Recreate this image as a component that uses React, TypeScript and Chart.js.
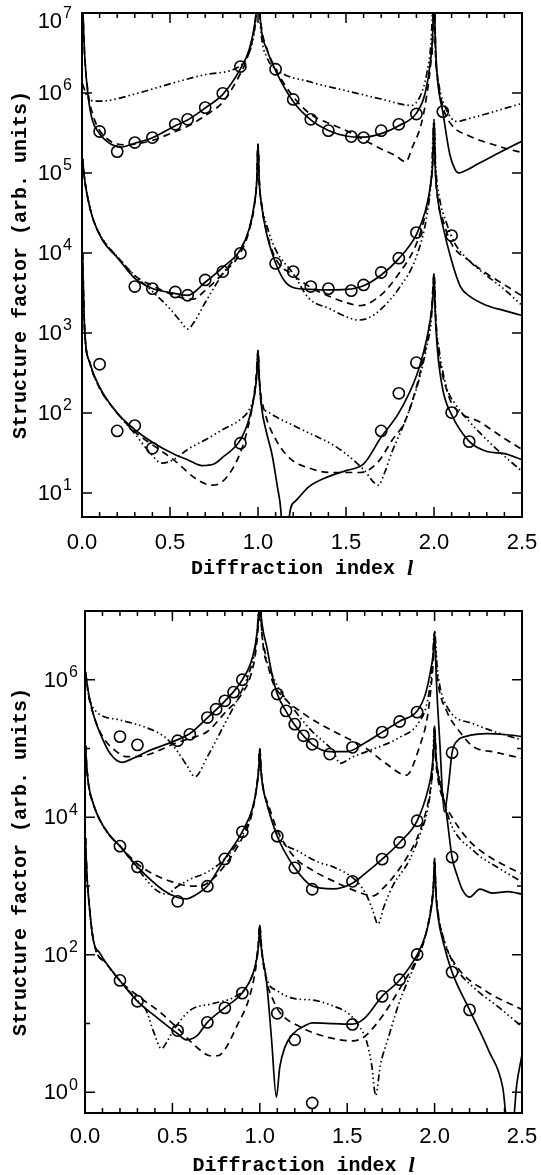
import React, { useEffect, useRef } from "react";
import { Chart, registerables } from "chart.js";
Chart.register(...registerables);

type P = [number, number][];

// ---------------- TOP PANEL ----------------
const topA_solid: P = [[0.003,1.5e7],[0.015,3e6],[0.035,9e5],[0.06,4.5e5],[0.1,3.1e5],[0.15,2.4e5],[0.22,2.1e5],[0.3,2.35e5],[0.4,2.75e5],[0.53,3.9e5],[0.6,4.6e5],[0.7,6.5e5],[0.8,9.6e5],[0.9,2.0e6],[0.95,3.5e6],[0.98,7e6],[0.993,1.3e7],[1.0,3e7],[1.007,1.3e7],[1.02,6e6],[1.05,3.5e6],[1.1,1.9e6],[1.2,7.8e5],[1.3,4.6e5],[1.4,3.4e5],[1.5,2.9e5],[1.6,2.8e5],[1.7,3.1e5],[1.8,3.9e5],[1.9,5.6e5],[1.95,1.0e6],[1.98,2.5e6],[1.993,6e6],[2.0,3e7],[2.007,5e6],[2.02,1.5e6],[2.05,5.8e5],[2.09,1.7e5],[2.12,1.1e5],[2.14,1.0e5],[2.17,1.05e5],[2.25,1.3e5],[2.35,1.7e5],[2.45,2.2e5],[2.5,2.5e5]];
const topA_dash: P = [[0.003,1.5e7],[0.015,3e6],[0.035,1e6],[0.06,5.5e5],[0.1,3.4e5],[0.15,2.6e5],[0.2,2.3e5],[0.25,2.25e5],[0.3,2.3e5],[0.4,2.55e5],[0.5,3.1e5],[0.6,3.85e5],[0.7,5.2e5],[0.8,7.7e5],[0.88,1.45e6],[0.94,2.8e6],[0.98,6.5e6],[0.993,1.3e7],[1.0,3e7],[1.007,1.3e7],[1.02,6.5e6],[1.05,3.6e6],[1.1,2.0e6],[1.2,9e5],[1.3,5.4e5],[1.4,4.2e5],[1.5,3.4e5],[1.6,2.6e5],[1.7,2.0e5],[1.78,1.65e5],[1.84,1.38e5],[1.877,2.1e5],[1.925,3.9e5],[1.954,8e5],[1.98,2.2e6],[1.993,5e6],[2.0,3e7],[2.007,4e6],[2.02,1.6e6],[2.05,6.8e5],[2.1,4.0e5],[2.2,2.9e5],[2.3,2.4e5],[2.4,2.05e5],[2.5,1.8e5]];
const topA_dot: P = [[0.003,1.3e6],[0.03,9e5],[0.08,7.9e5],[0.14,8e5],[0.3,9.7e5],[0.5,1.3e6],[0.7,1.7e6],[0.9,2.2e6],[0.95,3.2e6],[0.98,6e6],[0.993,1.2e7],[1.0,3e7],[1.007,1.2e7],[1.02,5e6],[1.05,2.8e6],[1.1,2.0e6],[1.3,1.37e6],[1.5,1.07e6],[1.7,8.4e5],[1.87,7e5],[1.92,9e5],[1.96,1.8e6],[1.985,5e6],[2.0,3e7],[2.01,3e6],[2.03,1.2e6],[2.07,6.2e5],[2.13,4.4e5],[2.2,4.8e5],[2.3,5.5e5],[2.4,6.4e5],[2.5,7.4e5]];
const topA_obs: P = [[0.1,3.3e5],[0.2,1.85e5],[0.3,2.4e5],[0.4,2.77e5],[0.53,4.06e5],[0.6,4.69e5],[0.7,6.56e5],[0.8,9.9e5],[0.9,2.14e6],[1.1,1.98e6],[1.2,8.3e5],[1.3,4.69e5],[1.4,3.38e5],[1.53,2.85e5],[1.6,2.77e5],[1.7,3.38e5],[1.8,4.06e5],[1.9,5.46e5],[2.05,5.85e5]];

const topB_solid: P = [[0.003,1.5e5],[0.016,8e4],[0.035,4.6e4],[0.064,2.6e4],[0.12,1.4e4],[0.2,8.8e3],[0.3,4.8e3],[0.4,3.6e3],[0.5,3.2e3],[0.6,2.95e3],[0.7,4.3e3],[0.8,6.6e3],[0.9,1.1e4],[0.95,2.0e4],[0.98,4.2e4],[0.993,8e4],[1.0,2.3e5],[1.007,8e4],[1.02,4e4],[1.05,1.7e4],[1.1,7.5e3],[1.15,4.5e3],[1.2,3.7e3],[1.3,3.5e3],[1.4,3.45e3],[1.5,3.5e3],[1.6,3.9e3],[1.7,5.3e3],[1.8,8.5e3],[1.9,1.7e4],[1.95,3.3e4],[1.98,7e4],[1.993,1.4e5],[2.0,4.6e5],[2.007,1.2e5],[2.02,5e4],[2.05,2.2e4],[2.1,8e3],[2.15,3.8e3],[2.2,2.9e3],[2.3,2.2e3],[2.4,1.9e3],[2.5,1.65e3]];
const topB_dash: P = [[0.003,1.5e5],[0.016,8e4],[0.035,4.6e4],[0.064,2.6e4],[0.12,1.45e4],[0.2,9e3],[0.3,5.2e3],[0.4,3.9e3],[0.5,3.1e3],[0.58,2.7e3],[0.63,2.65e3],[0.7,3.4e3],[0.8,5.5e3],[0.9,1.0e4],[0.95,1.9e4],[0.98,4e4],[0.993,8e4],[1.0,2.3e5],[1.007,8e4],[1.02,4e4],[1.05,1.8e4],[1.1,8.5e3],[1.2,5.3e3],[1.3,3.7e3],[1.4,2.9e3],[1.5,2.4e3],[1.58,2.2e3],[1.7,3.0e3],[1.8,5.5e3],[1.9,1.3e4],[1.95,3e4],[1.98,7e4],[1.993,1.4e5],[2.0,4.6e5],[2.007,1.2e5],[2.02,5e4],[2.05,2.6e4],[2.1,1.3e4],[2.2,8e3],[2.3,5.5e3],[2.4,4e3],[2.5,2.9e3]];
const topB_dot: P = [[0.003,1.5e5],[0.016,8e4],[0.035,4.6e4],[0.064,2.6e4],[0.12,1.45e4],[0.2,9e3],[0.3,5.2e3],[0.4,3.3e3],[0.5,2.0e3],[0.56,1.4e3],[0.6,1.12e3],[0.64,1.4e3],[0.7,2.4e3],[0.8,5.5e3],[0.9,1.1e4],[0.95,2e4],[0.98,4.2e4],[0.993,8e4],[1.0,2.3e5],[1.007,8e4],[1.02,4.2e4],[1.05,2.2e4],[1.1,1.1e4],[1.2,5.5e3],[1.29,2.7e3],[1.41,2.0e3],[1.5,1.6e3],[1.57,1.45e3],[1.63,1.55e3],[1.7,2.0e3],[1.8,3.6e3],[1.9,9e3],[1.96,3e4],[1.985,9e4],[2.0,4.6e5],[2.01,1.2e5],[2.03,5e4],[2.07,2.4e4],[2.12,1.3e4],[2.2,8e3],[2.3,5.2e3],[2.4,3.5e3],[2.5,2.2e3]];
const topB_obs: P = [[0.3,3.8e3],[0.4,3.58e3],[0.53,3.25e3],[0.6,2.96e3],[0.7,4.6e3],[0.8,5.85e3],[0.9,9.9e3],[1.1,7.4e3],[1.2,5.85e3],[1.3,3.8e3],[1.4,3.58e3],[1.53,3.38e3],[1.6,3.98e3],[1.7,5.7e3],[1.8,8.6e3],[1.9,1.8e4],[2.1,1.65e4]];

const topC_solid: P = [[0.003,1e4],[0.015,1.1e3],[0.045,420],[0.1,210],[0.2,100],[0.3,62],[0.4,43],[0.53,30],[0.6,26],[0.68,22],[0.75,23],[0.8,28],[0.9,46],[0.95,85],[0.98,170],[0.993,300],[1.0,600],[1.007,280],[1.02,120],[1.05,55],[1.08,30],[1.11,12],[1.13,6],[1.15,1],[1.165,1],[1.18,5.5],[1.21,7.8],[1.29,12],[1.4,16],[1.5,19],[1.6,23],[1.7,50],[1.8,100],[1.9,290],[1.95,700],[1.98,1.5e3],[1.993,2.6e3],[2.0,5.5e3],[2.007,1.8e3],[2.02,600],[2.05,195],[2.1,95],[2.2,44],[2.3,33],[2.4,31],[2.5,26]];
const topC_dash: P = [[0.003,1e4],[0.015,1.1e3],[0.045,420],[0.1,205],[0.2,100],[0.3,58],[0.4,40],[0.53,25],[0.63,16],[0.7,13],[0.746,12.5],[0.82,15.5],[0.9,32],[0.94,62],[0.97,130],[0.99,300],[1.0,600],[1.01,230],[1.04,100],[1.1,47],[1.19,26],[1.29,20.5],[1.41,18],[1.58,18],[1.68,24],[1.76,45],[1.84,83],[1.935,430],[1.975,1.3e3],[1.99,2.5e3],[2.0,5.5e3],[2.01,1.5e3],[2.03,500],[2.07,200],[2.1,133],[2.27,75],[2.4,48],[2.5,35]];
const topC_dot: P = [[0.003,1e4],[0.015,1.1e3],[0.045,420],[0.1,205],[0.2,100],[0.3,55],[0.38,33],[0.454,23.6],[0.52,26],[0.6,35],[0.707,47],[0.8,62],[0.9,83],[0.95,110],[0.98,170],[0.993,300],[1.0,600],[1.007,250],[1.02,125],[1.05,105],[1.1,90],[1.2,70],[1.29,56],[1.4,43],[1.49,32],[1.6,19.6],[1.685,12.5],[1.72,18],[1.76,32],[1.84,83],[1.915,260],[1.96,700],[1.985,1.5e3],[2.0,5.5e3],[2.01,1.5e3],[2.03,600],[2.07,214],[2.12,130],[2.19,83],[2.34,38],[2.5,18.6]];
const topC_obs: P = [[0.1,406],[0.2,59.6],[0.3,69.5],[0.4,36.2],[0.9,41.8],[1.7,59.6],[1.8,176],[1.9,425],[2.1,101],[2.2,43.8]];

// ---------------- BOTTOM PANEL ----------------
const botA_solid: P = [[0.003,1.3e6],[0.02,6.5e5],[0.05,3e5],[0.086,1.67e5],[0.143,8.5e4],[0.21,6.3e4],[0.28,7.3e4],[0.353,9e4],[0.5,1.25e5],[0.6,1.65e5],[0.7,2.8e5],[0.8,4.9e5],[0.9,1.0e6],[0.96,2.2e6],[0.985,5e6],[0.995,1.1e7],[1.0,3e7],[1.005,1.1e7],[1.015,6e6],[1.04,3e6],[1.07,1.2e6],[1.1,6.2e5],[1.15,3.5e5],[1.2,2.2e5],[1.3,1.15e5],[1.4,9.0e4],[1.5,9.0e4],[1.6,1.2e5],[1.7,1.73e5],[1.8,2.5e5],[1.9,3.5e5],[1.95,6.5e5],[1.98,1.5e6],[1.993,2.5e6],[2.0,5e6],[2.01,1e6],[2.03,1.2e5],[2.055,1.2e4],[2.08,3e4],[2.1,8.7e4],[2.13,1.3e5],[2.18,1.5e5],[2.3,1.65e5],[2.4,1.6e5],[2.5,1.5e5]];
const botA_dash: P = [[0.003,1.3e6],[0.02,6e5],[0.05,3e5],[0.1,1.5e5],[0.17,9.5e4],[0.24,7.6e4],[0.35,8e4],[0.52,1.2e5],[0.6,1.4e5],[0.7,1.77e5],[0.8,3.3e5],[0.9,6.4e5],[0.95,1.2e6],[0.98,3e6],[0.993,8e6],[1.0,3e7],[1.007,8e6],[1.02,3e6],[1.05,1.5e6],[1.076,9e5],[1.15,5.1e5],[1.23,3.5e5],[1.34,2.3e5],[1.48,1.5e5],[1.61,1e5],[1.72,6.1e4],[1.838,4.1e4],[1.914,1.07e5],[1.96,3e5],[1.98,8e5],[1.993,2e6],[2.0,5e6],[2.007,2e6],[2.02,9e5],[2.067,3.6e5],[2.15,1.67e5],[2.22,1.07e5],[2.35,8.8e4],[2.5,7.2e4]];
const botA_dot: P = [[0.003,1.2e6],[0.02,6e5],[0.057,3.6e5],[0.2,2.6e5],[0.354,2e5],[0.467,1.4e5],[0.53,9e4],[0.58,5.8e4],[0.629,3.9e4],[0.7,7.6e4],[0.8,2.3e5],[0.88,5.7e5],[0.94,1.3e6],[0.975,3e6],[0.99,8e6],[1.0,3e7],[1.01,6e6],[1.03,2.5e6],[1.076,1.1e6],[1.21,3.3e5],[1.3,1.77e5],[1.42,9e4],[1.46,6.1e4],[1.53,7.5e4],[1.61,9e4],[1.8,1.45e5],[1.91,2.4e5],[1.96,5e5],[1.985,1.5e6],[2.0,5e6],[2.015,1.5e6],[2.07,4.1e5],[2.22,2.3e5],[2.37,1.67e5],[2.5,1.33e5]];
const botA_obs: P = [[0.2,1.49e5],[0.3,1.13e5],[0.53,1.3e5],[0.6,1.61e5],[0.7,2.82e5],[0.75,3.73e5],[0.8,4.94e5],[0.85,6.6e5],[0.9,1e6],[1.1,6.2e5],[1.15,3.53e5],[1.2,2.26e5],[1.25,1.53e5],[1.3,1.15e5],[1.4,8.3e4],[1.53,1.04e5],[1.7,1.73e5],[1.8,2.47e5],[1.9,3.38e5],[2.1,8.7e4]];

const botB_solid: P = [[0.003,1.1e5],[0.01,5.5e4],[0.02,3e4],[0.05,1.5e4],[0.086,9e3],[0.14,5.5e3],[0.2,3.8e3],[0.3,1.9e3],[0.448,870],[0.53,680],[0.58,650],[0.64,760],[0.7,1.0e3],[0.8,2.5e3],[0.9,6.2e3],[0.96,1.4e4],[0.985,3e4],[0.995,5.5e4],[1.0,1e5],[1.005,5.5e4],[1.015,3e4],[1.04,1.6e4],[1.1,5.3e3],[1.2,1.84e3],[1.3,1e3],[1.42,910],[1.53,1.1e3],[1.6,1.5e3],[1.7,2.46e3],[1.8,4.3e3],[1.9,8.9e3],[1.96,2.4e4],[1.985,5e4],[1.995,1e5],[2.0,2.1e5],[2.005,1e5],[2.015,5e4],[2.04,2.5e4],[2.067,1.15e4],[2.1,2.6e3],[2.13,1.4e3],[2.16,870],[2.2,690],[2.26,900],[2.33,790],[2.42,830],[2.5,760]];
const botB_dash: P = [[0.003,1.1e5],[0.01,5.5e4],[0.02,3e4],[0.05,1.5e4],[0.086,9e3],[0.14,5.5e3],[0.2,3.8e3],[0.3,2.1e3],[0.4,1.45e3],[0.5,1.15e3],[0.6,1.0e3],[0.66,1.0e3],[0.72,1.2e3],[0.8,2.0e3],[0.9,5e3],[0.95,1e4],[0.98,2.5e4],[0.993,5e4],[1.0,1e5],[1.007,5e4],[1.02,2.6e4],[1.05,1.5e4],[1.1,6.5e3],[1.2,2.6e3],[1.3,1.7e3],[1.4,1.25e3],[1.5,950],[1.6,760],[1.65,720],[1.7,900],[1.8,1.8e3],[1.9,5e3],[1.95,1.2e4],[1.98,3e4],[1.993,7e4],[2.0,2.1e5],[2.007,7e4],[2.02,3.5e4],[2.05,1.8e4],[2.1,1e4],[2.2,4.5e3],[2.3,2.8e3],[2.4,2e3],[2.5,1.5e3]];
const botB_dot: P = [[0.003,1.1e5],[0.01,5.5e4],[0.02,3e4],[0.05,1.5e4],[0.086,9e3],[0.14,5.5e3],[0.2,3.8e3],[0.3,1.8e3],[0.4,900],[0.47,760],[0.52,950],[0.6,1.25e3],[0.7,1.6e3],[0.8,2.5e3],[0.9,5.5e3],[0.95,1.1e4],[0.98,2.6e4],[0.993,5e4],[1.0,1e5],[1.007,5e4],[1.02,2.6e4],[1.05,1.3e4],[1.1,5.5e3],[1.23,3.1e3],[1.34,2.2e3],[1.42,1.9e3],[1.55,1.2e3],[1.61,740],[1.645,450],[1.676,280],[1.71,500],[1.76,1e3],[1.857,2.4e3],[1.92,6e3],[1.96,1.3e4],[1.985,4e4],[2.0,2.1e5],[2.01,7e4],[2.03,3.5e4],[2.086,9e3],[2.22,3.3e3],[2.37,1.8e3],[2.5,1.15e3]];
const botB_obs: P = [[0.2,3.8e3],[0.3,1.9e3],[0.53,600],[0.7,994],[0.8,2.48e3],[0.9,6.15e3],[1.1,5.3e3],[1.2,1.84e3],[1.3,898],[1.53,1.17e3],[1.7,2.46e3],[1.8,4.3e3],[1.9,8.9e3],[2.1,2.63e3]];

const botC_solid: P = [[0.003,5e3],[0.01,1.6e3],[0.02,700],[0.048,162],[0.086,105],[0.124,74],[0.2,42],[0.3,21],[0.41,12.3],[0.53,7.1],[0.58,5.8],[0.64,6.6],[0.7,10.4],[0.8,17],[0.9,28],[0.96,52],[0.985,95],[0.995,160],[1.0,270],[1.005,160],[1.015,95],[1.038,42],[1.067,6],[1.095,0.85],[1.114,2.3],[1.143,4.5],[1.19,7.1],[1.257,9.3],[1.3,10.2],[1.42,10],[1.53,9.8],[1.6,12],[1.7,25],[1.8,43],[1.9,100],[1.95,200],[1.98,450],[1.993,900],[2.0,2.5e3],[2.007,800],[2.02,350],[2.05,150],[2.1,56],[2.2,15.8],[2.31,4],[2.39,1.17],[2.42,0.3],[2.445,0.3],[2.47,1.3],[2.5,3.5]];
const botC_dash: P = [[0.003,5e3],[0.01,1.6e3],[0.02,700],[0.048,162],[0.124,74],[0.2,42],[0.314,24],[0.43,14.6],[0.52,9],[0.6,5.6],[0.67,3.9],[0.714,3.4],[0.76,3.4],[0.8,4.2],[0.867,9],[0.94,24],[0.975,60],[0.99,120],[1.0,270],[1.01,120],[1.04,40],[1.07,24],[1.114,14.6],[1.23,9],[1.38,6.4],[1.533,5.6],[1.6,6.5],[1.71,13.8],[1.8,32],[1.9,90],[1.95,200],[1.98,500],[1.993,1e3],[2.0,2.5e3],[2.007,900],[2.02,400],[2.05,170],[2.13,66],[2.29,30],[2.5,16]];
const botC_dot: P = [[0.003,5e3],[0.01,1.6e3],[0.02,700],[0.048,162],[0.124,74],[0.2,42],[0.305,21],[0.35,15.5],[0.39,7.9],[0.438,4.3],[0.47,5.5],[0.505,7.9],[0.6,15.5],[0.733,19.6],[0.85,24],[0.93,36],[0.97,65],[0.99,130],[1.0,270],[1.01,130],[1.04,45],[1.1,30],[1.2,23],[1.3,22],[1.42,18],[1.51,13.8],[1.57,9],[1.61,5.6],[1.64,2.5],[1.663,0.9],[1.69,2.5],[1.73,5.6],[1.8,21],[1.89,75],[1.95,200],[1.98,500],[1.993,1e3],[2.0,2.5e3],[2.007,900],[2.02,400],[2.06,150],[2.12,66],[2.22,34],[2.37,17],[2.5,9]];
const botC_obs: P = [[0.2,42.4],[0.3,21.1],[0.53,7.9],[0.7,10.4],[0.8,16.9],[0.9,27.7],[1.1,14.1],[1.2,5.8],[1.3,0.7],[1.53,9.7],[1.7,24.8],[1.8,43.4],[1.9,101],[2.1,56],[2.2,15.8]];

// ---------------- AXES ----------------
const xTickValues = [0, 0.5, 1.0, 1.5, 2.0, 2.5];
const xTickLabels = ["0.0", "0.5", "1.0", "1.5", "2.0", "2.5"];
const topDecades = [1, 2, 3, 4, 5, 6, 7];
const botDecades = [0, 2, 4, 6];
const botMinorDecades = [1, 3, 5];
const X_TITLE = "Diffraction index ";
const X_TITLE_VAR = "l";
const Y_TITLE = "Structure factor (arb. units)";

const SOLID: number[] = [];
const DASHED = [7, 5];
const DASHDOT3 = [7, 3, 1.5, 3, 1.5, 3, 1.5, 3];

function line(pts: P, dash: number[]) {
  return {
    data: pts.map(([x, y]) => ({ x, y })),
    showLine: true,
    pointRadius: 0,
    pointHoverRadius: 0,
    borderColor: "#000",
    borderWidth: 1.7,
    borderDash: dash,
    cubicInterpolationMode: "monotone",
    fill: false,
  };
}
function dots(pts: P) {
  return {
    data: pts.map(([x, y]) => ({ x, y })),
    showLine: false,
    pointRadius: 5.6,
    pointHoverRadius: 5.6,
    pointStyle: "circle",
    pointBorderColor: "#000",
    pointBackgroundColor: "rgba(0,0,0,0)",
    pointBorderWidth: 1.6,
    borderColor: "#000",
    backgroundColor: "rgba(0,0,0,0)",
  };
}

type PanelProps = {
  width: number;
  height: number;
  area: { left: number; top: number; right: number; bottom: number };
  yMin: number;
  yMax: number;
  series: any[];
  decades: number[];
  minorDecades: number[];
  labelRight: number;
  xLabelY: number;
  xTitleY: number;
  yTitleX: number;
};

function Panel(p: PanelProps) {
  const ref = useRef<HTMLCanvasElement>(null);
  useEffect(() => {
    const frame = {
      id: "frame",
      afterDraw(chart: any) {
        const { ctx, chartArea: a } = chart;
        const xs = chart.scales.x;
        const ys = chart.scales.y;
        ctx.save();
        ctx.strokeStyle = "#000";
        ctx.fillStyle = "#000";
        // ticks
        ctx.lineWidth = 1.5;
        ctx.beginPath();
        for (let i = 1; i < 25; i++) {
          const px = xs.getPixelForValue(i / 10);
          const len = i % 5 === 0 ? 10 : 5;
          ctx.moveTo(px, a.bottom);
          ctx.lineTo(px, a.bottom - len);
          ctx.moveTo(px, a.top);
          ctx.lineTo(px, a.top + len);
        }
        const drawY = (d: number, len: number) => {
          const py = ys.getPixelForValue(Math.pow(10, d));
          if (py <= a.top + 1 || py >= a.bottom - 1) return;
          ctx.moveTo(a.left, py);
          ctx.lineTo(a.left + len, py);
          ctx.moveTo(a.right, py);
          ctx.lineTo(a.right - len, py);
        };
        p.decades.forEach((d) => drawY(d, 10));
        p.minorDecades.forEach((d) => drawY(d, 5));
        ctx.stroke();
        // frame
        ctx.lineWidth = 2;
        ctx.strokeRect(a.left, a.top, a.right - a.left, a.bottom - a.top);
        // x labels
        ctx.font = '22px "Liberation Sans", Arial, sans-serif';
        ctx.textAlign = "center";
        ctx.textBaseline = "middle";
        xTickValues.forEach((v, i) => {
          ctx.fillText(xTickLabels[i], xs.getPixelForValue(v), p.xLabelY);
        });
        // y labels
        p.decades.forEach((d) => {
          let py = ys.getPixelForValue(Math.pow(10, d));
          if (py < 20) py += 8;
          ctx.textAlign = "right";
          ctx.font = '16px "Liberation Sans", Arial, sans-serif';
          const e = String(d);
          const ew = ctx.measureText(e).width;
          ctx.fillText(e, p.labelRight, py - 7);
          ctx.font = '22px "Liberation Sans", Arial, sans-serif';
          ctx.fillText("10", p.labelRight - ew - 1, py + 1);
        });
        // x title
        ctx.textAlign = "left";
        const f1 = 'bold 20px "Liberation Mono", "DejaVu Sans Mono", monospace';
        const f2 = 'bold italic 22px "Liberation Serif", serif';
        ctx.font = f1;
        const w1 = ctx.measureText(X_TITLE).width;
        ctx.font = f2;
        const w2 = ctx.measureText(X_TITLE_VAR).width;
        const cx = (a.left + a.right) / 2;
        const sx = cx - (w1 + w2) / 2;
        ctx.font = f1;
        ctx.fillText(X_TITLE, sx, p.xTitleY);
        ctx.font = f2;
        ctx.fillText(X_TITLE_VAR, sx + w1, p.xTitleY);
        // y title
        ctx.translate(p.yTitleX, (a.top + a.bottom) / 2);
        ctx.rotate(-Math.PI / 2);
        ctx.textAlign = "center";
        ctx.font = f1;
        ctx.fillText(Y_TITLE, 0, 0);
        ctx.restore();
      },
    };
    const chart = new Chart(ref.current as HTMLCanvasElement, {
      type: "scatter",
      data: { datasets: p.series as any },
      options: {
        responsive: false,
        animation: false,
        devicePixelRatio: 1,
        events: [],
        layout: {
          padding: {
            left: p.area.left,
            top: p.area.top,
            right: p.width - p.area.right,
            bottom: p.height - p.area.bottom,
          },
        },
        plugins: { legend: { display: false }, tooltip: { enabled: false } },
        scales: {
          x: { type: "linear", min: 0, max: 2.5, display: false },
          y: { type: "logarithmic", min: p.yMin, max: p.yMax, display: false },
        },
      } as any,
      plugins: [frame],
    });
    return () => chart.destroy();
  }, []);
  return (
    <canvas
      ref={ref}
      width={p.width}
      height={p.height}
      style={{ display: "block", width: p.width, height: p.height }}
    />
  );
}

export default function App() {
  const topSeries = [
    line(topA_solid, SOLID), line(topA_dash, DASHED), line(topA_dot, DASHDOT3), dots(topA_obs),
    line(topB_solid, SOLID), line(topB_dash, DASHED), line(topB_dot, DASHDOT3), dots(topB_obs),
    line(topC_solid, SOLID), line(topC_dash, DASHED), line(topC_dot, DASHDOT3), dots(topC_obs),
  ];
  const botSeries = [
    line(botA_solid, SOLID), line(botA_dash, DASHED), line(botA_dot, DASHDOT3), dots(botA_obs),
    line(botB_solid, SOLID), line(botB_dash, DASHED), line(botB_dot, DASHDOT3), dots(botB_obs),
    line(botC_solid, SOLID), line(botC_dash, DASHED), line(botC_dot, DASHDOT3), dots(botC_obs),
  ];
  return (
    <div style={{ position: "absolute", left: 0, top: 0, width: 541, height: 1175, background: "#fff" }}>
      <Panel
        width={541}
        height={590}
        area={{ left: 82, top: 13, right: 522, bottom: 517 }}
        yMin={5}
        yMax={1e7}
        series={topSeries}
        decades={topDecades}
        minorDecades={[]}
        labelRight={72}
        xLabelY={543}
        xTitleY={569}
        yTitleX={21}
      />
      <Panel
        width={541}
        height={585}
        area={{ left: 85, top: 21, right: 522, bottom: 523 }}
        yMin={0.5}
        yMax={1e7}
        series={botSeries}
        decades={botDecades}
        minorDecades={botMinorDecades}
        labelRight={78}
        xLabelY={547}
        xTitleY={576}
        yTitleX={21}
      />
    </div>
  );
}
